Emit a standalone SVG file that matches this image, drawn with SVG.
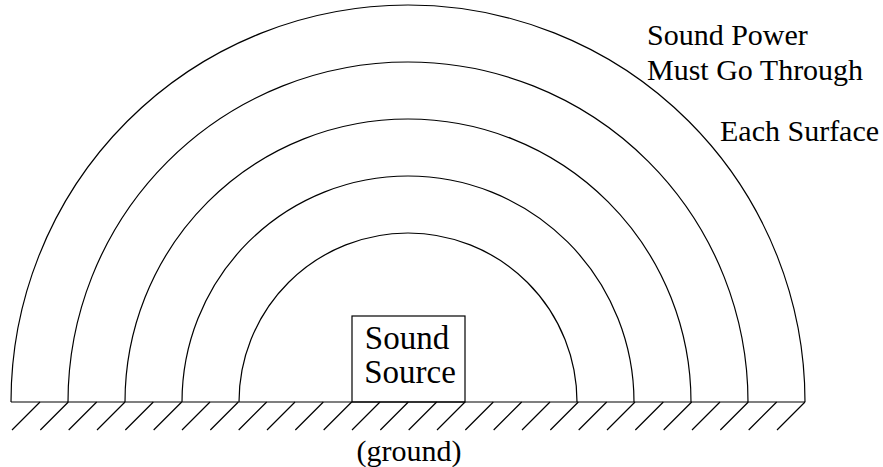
<svg xmlns="http://www.w3.org/2000/svg" width="883" height="467" viewBox="0 0 883 467">
<rect width="883" height="467" fill="#fff"/>
<g id="surfaces" fill="none" stroke="#000" stroke-width="1.2">
<path d="M11,402 A397,397 0 0 1 805,402"/>
<path d="M68,402 A340,340 0 0 1 748,402"/>
<path d="M125,402 A283,283 0 0 1 691,402"/>
<path d="M182,402 A226,226 0 0 1 634,402"/>
<path d="M239,402 A169,169 0 0 1 577,402"/>
</g>
<g id="ground">
<g fill="none" stroke="#000" stroke-width="1.2">
<line x1="11" y1="402" x2="805" y2="402"/>
<path d="M40,402 l-28,28 M68.33,402 l-28,28 M96.67,402 l-28,28 M125,402 l-28,28 M153.33,402 l-28,28 M181.67,402 l-28,28 M210,402 l-28,28 M238.33,402 l-28,28 M266.67,402 l-28,28 M295,402 l-28,28 M323.33,402 l-28,28 M351.67,402 l-28,28 M380,402 l-28,28 M408.33,402 l-28,28 M436.67,402 l-28,28 M465,402 l-28,28 M493.33,402 l-28,28 M521.67,402 l-28,28 M550,402 l-28,28 M578.33,402 l-28,28 M606.67,402 l-28,28 M635,402 l-28,28 M663.33,402 l-28,28 M691.67,402 l-28,28 M720,402 l-28,28 M748.33,402 l-28,28 M776.67,402 l-28,28 M805,402 l-28,28"/>
</g>
<text x="409" y="461" font-size="30" font-family="Liberation Serif" text-anchor="middle">(ground)</text>
</g>
<g id="source">
<rect x="352" y="316" width="113" height="86" fill="none" stroke="#000" stroke-width="1.2"/>
<text x="407" y="349" font-size="33" font-family="Liberation Serif" text-anchor="middle">Sound</text>
<text x="410" y="383" font-size="33" font-family="Liberation Serif" text-anchor="middle">Source</text>
</g>
<g id="label" font-family="Liberation Serif" font-size="30">
<text x="647" y="45">Sound Power</text>
<text x="647" y="80">Must Go Through</text>
<text x="720" y="141">Each Surface</text>
</g>
</svg>
